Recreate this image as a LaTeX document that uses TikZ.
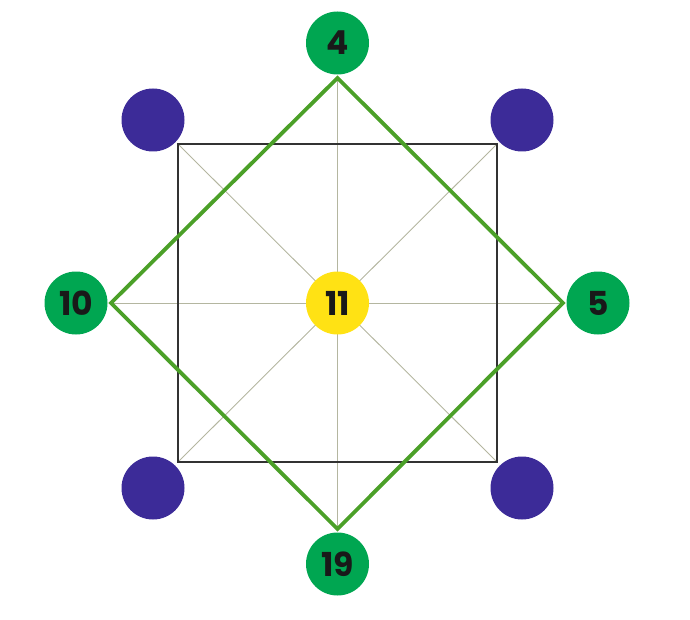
\documentclass[tikz,border=0pt]{standalone}
\usepackage{fontspec}
\setmainfont{Poppins}
\definecolor{spokecol}{RGB}{180,182,160}
\definecolor{sqcol}{RGB}{50,50,50}
\definecolor{diacol}{RGB}{75,160,40}
\definecolor{greencol}{RGB}{0,166,81}
\definecolor{purplecol}{RGB}{60,43,152}
\definecolor{yellowcol}{RGB}{255,226,20}
\definecolor{txtcol}{RGB}{25,25,25}
\begin{document}
\begin{tikzpicture}[x=1pt,y=-1pt,
  spoke/.style={line width=0.9pt,draw=spokecol},
  greenc/.style={circle,fill=greencol,minimum size=63pt,inner sep=0pt,font=\fontsize{33}{33}\selectfont\bfseries,text=txtcol},
  purplec/.style={circle,fill=purplecol,minimum size=63pt,inner sep=0pt},
  yellowc/.style={circle,fill=yellowcol,minimum size=63pt,inner sep=0pt,font=\fontsize{33}{33}\selectfont\bfseries,text=txtcol}]
\useasboundingbox (0,0) rectangle (690,620);
\coordinate (c) at (337.5,303);
\coordinate (tl) at (178,144);
\coordinate (tr) at (497,144);
\coordinate (br) at (497,462);
\coordinate (bl) at (178,462);
\coordinate (dt) at (337.5,78);
\coordinate (db) at (337.5,529);
\coordinate (dl) at (111,303);
\coordinate (dr) at (563,303);
\foreach \p in {tl,tr,br,bl,dt,db,dl,dr} \draw[spoke] (c) -- (\p);
\draw[line width=1.3pt,draw=sqcol] (tl) -- (tr) -- (br) -- (bl) -- cycle;
\draw[line width=3.8pt,draw=diacol,line join=miter] (dt) -- (dr) -- (db) -- (dl) -- cycle;
\node[greenc] (n4) at (337.5,43) {4};
\node[greenc] (n19) at (337.5,564) {19};
\node[greenc] (n10) at (76,303) {10};
\node[greenc] (n5) at (598,303) {5};
\node[yellowc] (n11) at (c) {11};
\node[purplec] (p1) at (153,120) {};
\node[purplec] (p2) at (522,120) {};
\node[purplec] (p3) at (153,488) {};
\node[purplec] (p4) at (522,488) {};
\end{tikzpicture}
\end{document}
